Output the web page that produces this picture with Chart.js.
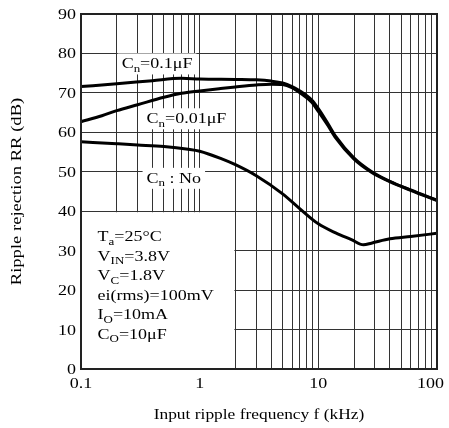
<!DOCTYPE html>
<html>
<head>
<meta charset="utf-8">
<script src="https://cdn.jsdelivr.net/npm/chart.js@4.4.0/dist/chart.umd.min.js"></script>
<style>
html, body { margin: 0; padding: 0; background: #fff; }
#wrap { width: 449px; height: 428px; }
</style>
</head>
<body>
<div id="wrap"><canvas id="chart" width="449" height="428"></canvas></div>
<script>
// Ripple rejection vs input ripple frequency (kHz -> dB)
const freq01 = [0.1, 0.2, 0.4, 0.7, 1, 2, 3, 4, 5, 6, 7, 8.8, 10, 12, 14, 20, 28, 40, 60, 100];
const rr01   = [71.6, 72.3, 73.1, 73.7, 73.5, 73.4, 73.3, 73.0, 72.5, 71.6, 70.5, 68.2, 66.0, 62.3, 59.0, 53.5, 50.1, 47.6, 45.4, 42.8];

const freq001 = [0.1, 0.15, 0.2, 0.3, 0.5, 0.7, 1, 1.5, 2, 3, 4, 5, 6, 7, 8.8, 10, 12, 14, 20, 28, 40, 60, 100];
const rr001   = [62.7, 64.2, 65.5, 67.0, 68.9, 69.9, 70.5, 71.1, 71.5, 72.0, 72.2, 72.1, 71.3, 70.0, 67.6, 65.3, 61.8, 58.6, 53.2, 49.9, 47.5, 45.3, 42.7];

const freqNo = [0.1, 0.2, 0.3, 0.5, 0.8, 1, 1.5, 2, 3, 5, 7, 10, 14, 19, 24, 28, 40, 60, 100];
const rrNo   = [57.6, 57.1, 56.8, 56.4, 55.7, 55.2, 53.4, 51.8, 49.0, 44.4, 40.6, 36.8, 34.5, 32.8, 31.5, 31.9, 33.0, 33.6, 34.4];

// axes
const xGrid = [0.1, 0.2, 0.3, 0.4, 0.5, 0.6, 0.7, 0.8, 0.9,
               1, 2, 3, 4, 5, 6, 7, 8, 9,
               10, 20, 30, 40, 50, 60, 70, 80, 90, 100];
const xTicks = [0.1, 1, 10, 100];
const xTickLabels = ['0.1', '1', '10', '100'];
const yTicks = [0, 10, 20, 30, 40, 50, 60, 70, 80, 90];

const xTitle = 'Input ripple frequency f (kHz)';
const yTitle = 'Ripple rejection RR (dB)';

// curve labels: [text, subscript?] parts
const labels = [
    { parts: [['C', 0], ['n', 1], ['=0.1μF', 0]], f: 0.22, db: 76.2 },
    { parts: [['C', 0], ['n', 1], ['=0.01μF', 0]], f: 0.357, db: 62.3 },
    { parts: [['C', 0], ['n', 1], [' : No', 0]], f: 0.357, db: 47.2 },
];

const conditions = [
    [['T', 0], ['a', 1], ['=25°C', 0]],
    [['V', 0], ['IN', 1], ['=3.8V', 0]],
    [['V', 0], ['C', 1], ['=1.8V', 0]],
    [['ei(rms)=100mV', 0]],
    [['I', 0], ['O', 1], ['=10mA', 0]],
    [['C', 0], ['O', 1], ['=10μF', 0]],
];

const FONT = '"Liberation Serif", "Times New Roman", serif';
const SX = 1.2;   // the scanned figure is stretched horizontally

function richWidth(ctx, parts, size) {
    let w = 0;
    parts.forEach(([t, sub]) => {
        ctx.font = `${sub ? size * 0.72 : size}px ${FONT}`;
        w += ctx.measureText(t).width;
    });
    return w * SX;
}

function drawRich(ctx, parts, x, y, size, align) {
    const w = richWidth(ctx, parts, size);
    let cx = align === 'center' ? x - w / 2 : align === 'right' ? x - w : x;
    ctx.save();
    ctx.fillStyle = '#000';
    ctx.textAlign = 'left';
    ctx.textBaseline = 'alphabetic';
    parts.forEach(([t, sub]) => {
        const fs = sub ? size * 0.72 : size;
        ctx.font = `${fs}px ${FONT}`;
        const tw = ctx.measureText(t).width;
        ctx.save();
        ctx.translate(cx, y + (sub ? size * 0.22 : 0));
        ctx.scale(SX, 1);
        ctx.fillText(t, 0, 0);
        ctx.restore();
        cx += tw * SX;
    });
    ctx.restore();
    return w;
}

const toPoints = (xs, ys) => xs.map((x, i) => ({ x, y: ys[i] }));

const curve = (label, xs, ys) => ({
    label,
    data: toPoints(xs, ys),
    borderColor: '#000',
    borderWidth: 3,
    pointRadius: 0,
    fill: false,
    cubicInterpolationMode: 'monotone',
});

const annotations = {
    id: 'annotations',
    beforeDatasetsDraw(chart) {
        const { ctx, chartArea: a, scales: { x, y } } = chart;
        ctx.save();
        ctx.fillStyle = '#fff';
        // conditions box hides the grid below 40 dB up to 2 kHz
        const bx = x.getPixelForValue(2);
        const by = y.getPixelForValue(40);
        ctx.fillRect(a.left, by + 1, bx - a.left - 1, a.bottom - by - 1);
        // white backgrounds behind curve labels
        labels.forEach(l => {
            const px = x.getPixelForValue(l.f);
            const py = y.getPixelForValue(l.db);
            const w = richWidth(ctx, l.parts, 15);
            ctx.fillStyle = '#fff';
            ctx.fillRect(px - 4, py - 15, w + 8, 21);
        });
        ctx.restore();
    },
    afterDraw(chart) {
        const { ctx, chartArea: a, scales: { x, y } } = chart;
        ctx.save();
        // frame
        ctx.strokeStyle = '#222';
        ctx.lineWidth = 2;
        ctx.strokeRect(a.left, a.top, a.right - a.left, a.bottom - a.top);

        // curve labels
        labels.forEach(l => {
            drawRich(ctx, l.parts, x.getPixelForValue(l.f), y.getPixelForValue(l.db), 15, 'left');
        });

        // measurement conditions
        const cx = x.getPixelForValue(0.138);
        let cy = y.getPixelForValue(40) + 30;
        conditions.forEach(parts => {
            drawRich(ctx, parts, cx, cy, 15, 'left');
            cy += 19.5;
        });

        // tick labels
        yTicks.forEach(v => {
            drawRich(ctx, [[String(v), 0]], a.left - 5, y.getPixelForValue(v) + 5, 15, 'right');
        });
        xTicks.forEach((v, i) => {
            const parts = [[xTickLabels[i], 0]];
            const w = richWidth(ctx, parts, 15);
            const px = Math.min(x.getPixelForValue(v), chart.width - 5 - w / 2);
            drawRich(ctx, parts, px, a.bottom + 19, 15, 'center');
        });

        // axis titles
        drawRich(ctx, [[xTitle, 0]], (a.left + a.right) / 2, a.bottom + 50, 14.5, 'center');
        ctx.translate(21, (a.top + a.bottom) / 2);
        ctx.rotate(-Math.PI / 2);
        drawRich(ctx, [[yTitle, 0]], 0, 0, 15.5, 'center');
        ctx.restore();
    }
};

new Chart(document.getElementById('chart'), {
    type: 'line',
    data: {
        datasets: [
            curve('Cn=0.1μF', freq01, rr01),
            curve('Cn=0.01μF', freq001, rr001),
            curve('Cn : No', freqNo, rrNo),
        ]
    },
    options: {
        responsive: false,
        animation: false,
        layout: { padding: { left: 0, right: 12, top: 14, bottom: 0 } },
        plugins: {
            legend: { display: false },
            tooltip: { enabled: false },
        },
        scales: {
            x: {
                type: 'logarithmic',
                min: 0.1,
                max: 100,
                afterBuildTicks(scale) {
                    scale.ticks = xGrid.map(value => ({ value }));
                },
                afterFit(scale) { scale.height = 59; },
                ticks: { display: false, autoSkip: false },
                grid: { color: '#333', lineWidth: 1, drawTicks: false },
                border: { display: false },
            },
            y: {
                type: 'linear',
                min: 0,
                max: 90,
                afterFit(scale) { scale.width = 81; },
                ticks: { display: false, stepSize: 10 },
                grid: { color: '#333', lineWidth: 1, drawTicks: false },
                border: { display: false },
            }
        }
    },
    plugins: [annotations]
});
</script>
</body>
</html>
